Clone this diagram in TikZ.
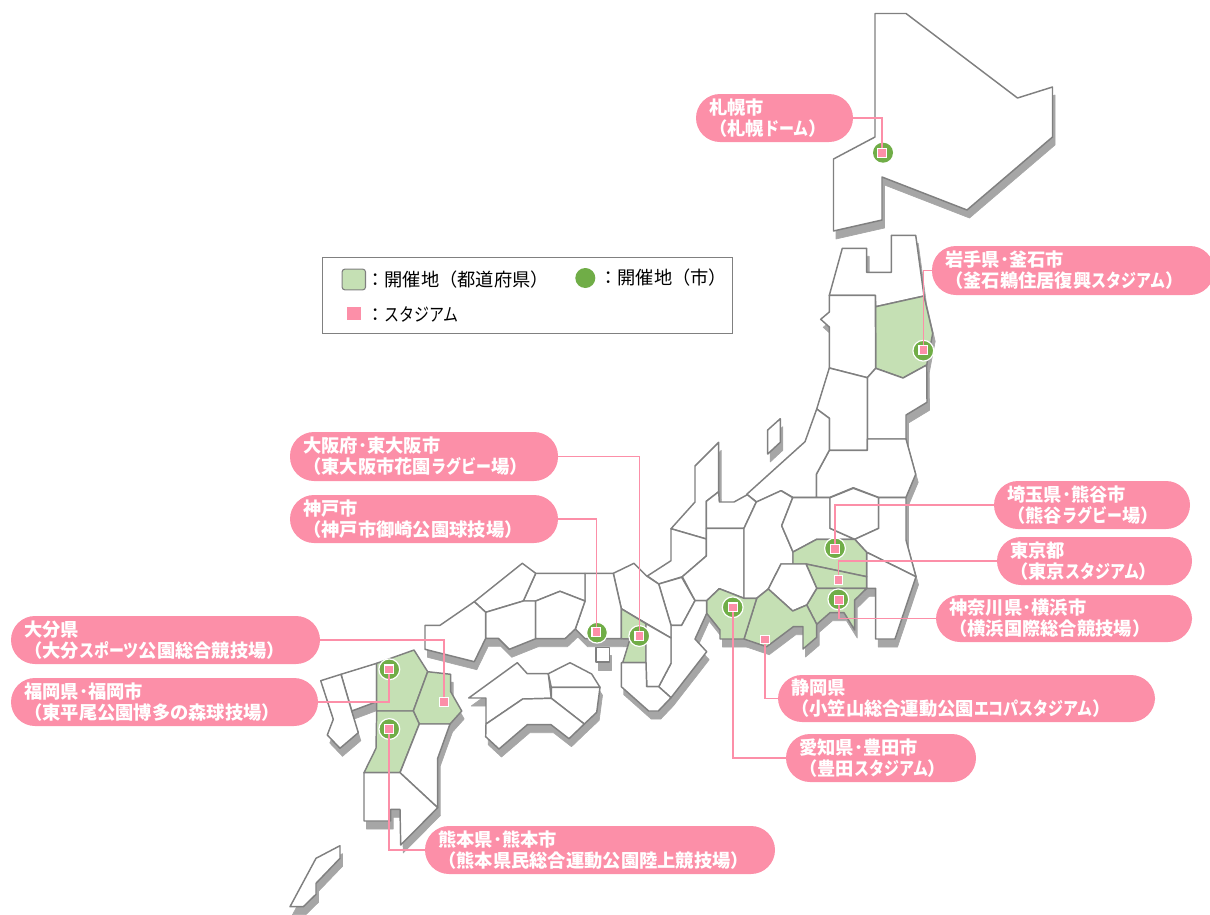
\documentclass[tikz,border=0pt]{standalone}
\usepackage{fontspec}
\setmainfont{Noto Sans CJK JP}
\newfontfamily\kanafont[FakeStretch=0.82]{Noto Sans CJK JP}
\newcommand{\KN}[1]{{\kanafont #1}}
\usetikzlibrary{calc}
\definecolor{pinkc}{HTML}{FC8FA8}
\definecolor{greenf}{HTML}{C5E0B4}
\definecolor{greenc}{HTML}{70AD47}
\definecolor{mapline}{HTML}{808080}
\definecolor{mapshadow}{HTML}{A6A6A6}
\pgfdeclarelayer{bg}\pgfdeclarelayer{mid}\pgfsetlayers{bg,mid,main}
\tikzset{
  x=0.75pt,y=-0.75pt,
  pillbox/.style={rectangle,fill=pinkc,rounded corners=18pt,inner xsep=10pt,inner ysep=0pt,align=left,text=white,font=\fontsize{13.7}{15.8}\selectfont\bfseries},
  wpref/.style={fill=white,draw=mapline,line width=1.1pt,line join=round},
  gpref/.style={fill=greenf,draw=mapline,line width=1.1pt,line join=round},
  shade/.style={fill=mapshadow,draw=mapshadow,line width=0.5pt,line join=round},
  sqmark/.style={rectangle,fill=pinkc,draw=white,line width=0.9pt,minimum size=6.6pt,inner sep=0pt},
  sqsmall/.style={sqmark,minimum size=6.2pt},
  circmark/.style={circle,fill=greenc,draw=white,line width=0.9pt,minimum size=15.6pt,inner sep=0pt},
  conn/.style={draw=pinkc,line width=1.2pt},
  legtext/.style={anchor=west,inner sep=0pt,font=\fontsize{13.7}{16}\selectfont},
}
\newcommand{\pill}[6]{%
  \pgfmathsetmacro{\tw}{(#4-#2)*0.75-20}%
  \node[pillbox,text width=\tw pt,minimum height={(#5-#3)*0.75pt}] (#1) at ({(#2+#4)/2},{(#3+#5)/2}) {#6};}
\newcommand{\allregions}{%
% Hokkaido
\reg{wpref}{(875,13.5)--(906,13.5)--(1017.5,98)--(1052.5,87)--(1052.5,137)--(967,210)--(882,177)--(882,220)--(833.5,231)--(833.5,159)--(875,137)--cycle}%
% Tohoku
\reg{wpref}{(829.3,295.3)--(842.3,248.3)--(866.7,248.3)--(866.7,272.3)--(891.3,272.3)--(891.3,235.3)--(915.7,235.3)--(924,296)--(875.7,306.7)--(875.3,295.3)--cycle}%
\reg{gpref}{(875.7,306.7)--(924,296)--(932.7,333.3)--(926.7,365)--(903,378)--(875.7,368.3)--cycle}%
\reg{wpref}{(829.3,295.3)--(875.3,295.3)--(875.7,368.3)--(867.3,377.7)--(829.3,368)--(829.3,327)--(820.7,319.3)--(829.3,312)--cycle}%
\reg{wpref}{(867.3,377.7)--(875.7,368.3)--(903,378)--(926.7,365)--(927,402.3)--(906,415)--(906,439)--(867.3,439)--cycle}%
\reg{wpref}{(829.3,368)--(867.3,377.7)--(867.3,450.3)--(829.3,450.3)--(829.3,418.3)--(816.7,409)--cycle}%
\reg{wpref}{(829.3,450.3)--(867.3,450.3)--(867.3,439)--(906,439)--(915.7,474.3)--(906,497.3)--(878.3,497.3)--(853.3,487.7)--(830,497.3)--(816.3,497.3)--(816.3,474.3)--cycle}%
\reg{wpref}{(829.3,450.3)--(816.3,474.3)--(816.3,497.3)--(792.7,497.3)--(781.3,490.7)--(756.7,502)--(746.7,494.3)--(805,441.7)--(816.7,409)--(829.3,418.3)--cycle}%
\reg{wpref}{(767.7,430)--(780.3,418.7)--(780.3,442.3)--(767.7,454)--cycle}%
% Chubu
\reg{wpref}{(718.7,442.3)--(695,466)--(695,502)--(671,528.7)--(706.3,539)--(706.3,501.3)--(718.7,491.7)--cycle}%
\reg{wpref}{(706.3,501.3)--(718.7,491.7)--(719.3,502)--(734,502)--(747.3,494.7)--(756.3,502)--(744,528.3)--(706.3,528.3)--cycle}%
\reg{wpref}{(671,528.7)--(706.3,539)--(706.3,556)--(682.3,576.7)--(658.7,584)--(647.3,576)--(671,560.7)--cycle}%
\reg{wpref}{(706.3,528.3)--(744,528.3)--(744,598.3)--(719.3,588.7)--(706.7,600.7)--(695,600.7)--(682.3,576.7)--(706.3,556)--cycle}%
\reg{wpref}{(756.3,502)--(781,490.7)--(792.7,497.7)--(781.7,525.7)--(793,552)--(793,564)--(781,564)--(768.3,589)--(756.7,598.3)--(744,598.3)--(744,528.3)--cycle}%
\reg{wpref}{(792.7,497.7)--(830,497.7)--(830,528.3)--(854.7,539.3)--(816.7,539.3)--(793,552)--(781.7,525.7)--cycle}%
\reg{wpref}{(830,497.7)--(853.3,488.3)--(878.7,497.7)--(878.7,528.3)--(854.7,539.3)--(830,528.3)--cycle}%
\reg{wpref}{(878.7,497.7)--(906,497.7)--(906,540)--(916,576.7)--(866.7,552.3)--(854.7,539.3)--(878.7,528.3)--cycle}%
\reg{wpref}{(866.7,552.3)--(916,576.7)--(895,639)--(875.7,639)--(875.7,588.3)--(866.7,588.3)--cycle}%
\reg{gpref}{(793,552)--(816.7,539.3)--(854.7,539.3)--(866.7,552.3)--(866.7,576.7)--(806,564)--(793,564)--cycle}%
\reg{gpref}{(806,564)--(866.7,576.7)--(866.7,588.3)--(816.7,588.3)--cycle}%
\reg{gpref}{(816.7,588.3)--(866.7,588.3)--(854.7,600)--(854.7,630)--(844,612.7)--(830,612.7)--(816.7,624.3)--(806.7,605)--cycle}%
\reg{wpref}{(781,564)--(806,564)--(816.7,588.3)--(806.7,605)--(792.7,611)--(768.3,589)--cycle}%
\reg{gpref}{(756.7,598.3)--(768.3,589)--(792.7,611)--(806.7,605)--(816.7,624.3)--(816.7,637.3)--(803,649)--(803,626.7)--(793.3,626.7)--(766.7,646.7)--(744,639)--cycle}%
\reg{gpref}{(719.3,588.7)--(744,598.3)--(756.7,598.3)--(744,639)--(720,639)--(720,630)--(706.7,613.3)--(706.7,600.7)--cycle}%
% Kinki
\reg{wpref}{(658.7,584)--(681.7,577.3)--(695,600.7)--(681.7,625.3)--(671,625.3)--cycle}%
\reg{wpref}{(671,625.3)--(681.7,625.3)--(695,600.7)--(706.7,600.7)--(706.7,613.3)--(695,639)--(706.7,651.7)--(671,697.7)--(658.7,686.7)--(671,663.3)--cycle}%
\reg{wpref}{(613.3,573.3)--(634,563.3)--(646.7,576)--(658.7,584)--(671,625.3)--(671,638)--(621.3,608.7)--cycle}%
\reg{wpref}{(585,573.3)--(613.3,573.3)--(621.3,608.7)--(621.3,638.7)--(585,638.7)--(575.3,629)--(585,601)--cycle}%
\reg{wpref}{(596,647.7)--(609.3,647.7)--(609.3,662)--(596,662)--cycle}%
\reg{gpref}{(621.3,608.7)--(646,623.7)--(646,662.7)--(622.7,662.7)--(630,639)--(621.3,638.7)--cycle}%
\reg{wpref}{(646,623.7)--(671,638)--(671,663.3)--(658.7,686.7)--(646.7,686.7)--(646,662.7)--cycle}%
\reg{wpref}{(621.3,662.7)--(646,662.7)--(646.7,686.7)--(658.7,686.7)--(671,697.7)--(658.3,711)--(648.7,711)--(621.3,686.7)--cycle}%
% Chugoku
\reg{wpref}{(535.7,573.3)--(585,573.3)--(585,601)--(560,591.3)--(535.7,601)--(523.3,601)--cycle}%
\reg{wpref}{(522.3,563.3)--(535.7,573.3)--(523.3,601)--(485.7,612.3)--(474.3,601.7)--cycle}%
\reg{wpref}{(485.7,612.3)--(523.3,601)--(535.7,601)--(535.7,638.7)--(509.3,649.3)--(498.3,638.3)--(485.7,638.3)--cycle}%
\reg{wpref}{(535.7,601)--(560,591.3)--(585,601)--(575.3,629)--(565,638.7)--(535.7,638.7)--cycle}%
\reg{wpref}{(474.3,601.7)--(485.7,612.3)--(485.7,638.3)--(474.3,661.7)--(425,649.3)--(425,625.3)--(440,625.3)--cycle}%
% Shikoku
\reg{wpref}{(468.7,698)--(517.3,662.7)--(527.3,673.7)--(548.3,673.7)--(551.3,698.3)--(522.7,699)--(486,724)--(486,698)--cycle}%
\reg{wpref}{(548.3,673.7)--(570,662.7)--(591.7,674)--(600,687.3)--(551.3,687.3)--cycle}%
\reg{wpref}{(551.3,687.3)--(600,687.3)--(596.7,712.3)--(584.3,724)--(551.3,698.3)--cycle}%
\reg{wpref}{(486,724)--(522.7,699)--(551.3,698.3)--(584.3,724)--(569,738.7)--(551,724.7)--(527.3,724.7)--(499,749)--(485.7,736.7)--cycle}%
% Kyushu
\reg{wpref}{(341,674.3)--(376.7,663.3)--(376.7,701.7)--(351.7,711)--cycle}%
\reg{wpref}{(320.7,680.7)--(341,674.3)--(351.7,711)--(358.3,732.7)--(340,748.3)--(327.3,735)--(333.3,719.3)--cycle}%
\reg{gpref}{(376.7,663.3)--(414,650)--(427.7,671.7)--(413.3,711)--(376.7,711)--cycle}%
\reg{gpref}{(427.7,671.7)--(450.7,674.3)--(450.7,691.7)--(461.7,711)--(450,724)--(419.3,724)--(413.3,711)--cycle}%
\reg{gpref}{(376.7,711)--(413.3,711)--(419.3,724)--(400,772.7)--(364,772.7)--(376,748.3)--cycle}%
\reg{wpref}{(419.3,724)--(450,724)--(437.7,758.3)--(437.7,807.7)--(400,772.7)--cycle}%
\reg{wpref}{(364,772.7)--(400,772.7)--(437.7,807.7)--(400.7,845)--(400,809.3)--(390.7,809.3)--(390.7,821)--(364,821)--cycle}%
\reg{wpref}{(316,858.3)--(340,845.7)--(340,858.3)--(316,883.3)--(316,894.3)--(303.3,906.7)--(290,906.7)--cycle}%
}
\begin{document}
\begin{tikzpicture}
\useasboundingbox (0,0) rectangle (1210,914);
\begin{pgfonlayer}{bg}
  \def\reg#1#2{\filldraw[shade,shift={(2.5,8)}] #2;}
  \allregions
  \def\reg#1#2{\filldraw[#1] #2;}
  \allregions
  \node[circmark,draw=none,minimum size=15pt] (c1) at (883,152.7) {};
  \node[circmark] (c2) at (923.3,350.7) {};
  \node[circmark] (c3) at (835,548.3) {};
  \node[circmark] (c5) at (838.3,599.3) {};
  \node[circmark] (c7) at (732.7,607.3) {};
  \node[circmark] (c8) at (639.3,636) {};
  \node[circmark] (c9) at (597,632.7) {};
  \node[circmark] (c11) at (389.3,669.3) {};
  \node[circmark] (c12) at (389.3,729) {};
\end{pgfonlayer}
% legend
\node[rectangle,draw=mapline,line width=0.9pt,fill=white,minimum width=307.5pt,minimum height=57pt,inner sep=0pt] (legend) at (527.4,295.5) {};
\node[rectangle,rounded corners=2pt,fill=greenf,draw=mapline,line width=0.8pt,minimum width=17.5pt,minimum height=15.5pt,inner sep=0pt] (lg1) at (353.8,279.5) {};
\node[circle,fill=greenc,minimum size=15pt,inner sep=0pt] (lg2) at (585.3,278) {};
\node[rectangle,fill=pinkc,minimum width=10.5pt,minimum height=9.5pt,inner sep=0pt] (lg3) at (353.7,313.7) {};
\node[legtext] (lt1) at (366,279.5) {：開催地（都道府県）};
\node[legtext] (lt2) at (599,278) {：開催地（市）};
\node[legtext] (lt3) at (366,314) {：\KN{スタジアム}};
% stadium marks
\node[sqmark] (s1) at (881.7,152.7) {};
\node[sqmark] (s2) at (923.3,350) {};
\node[sqmark] (s3) at (835,548.7) {};
\node[sqsmall] (s4) at (838.3,580) {};
\node[sqsmall] (s5) at (839,600) {};
\node[sqsmall] (s6) at (765,639.3) {};
\node[sqmark] (s7) at (732.7,607.3) {};
\node[sqmark] (s8) at (639.3,636) {};
\node[sqmark] (s9) at (596.3,632) {};
\node[sqmark] (s10) at (444,702) {};
\node[sqmark] (s11) at (389,669.3) {};
\node[sqmark] (s12) at (389,728.7) {};
% pills
\pill{p1}{696}{94}{853}{142}{札幌市\\（札幌\KN{ドーム}）}
\pill{p2}{932}{246}{1214}{295}{岩手県･釜石市\\（釜石鵜住居復興\KN{スタジアム}）}
\pill{p3}{994}{481}{1190}{529}{埼玉県･熊谷市\\（熊谷\KN{ラグビー}場）}
\pill{p4}{997}{537}{1192}{585}{東京都\\（東京\KN{スタジアム}）}
\pill{p5}{936}{595}{1192}{642}{神奈川県･横浜市\\（横浜国際総合競技場）}
\pill{p6}{778}{675}{1155}{722}{静岡県\\（小笠山総合運動公園\KN{エコパスタジアム}）}
\pill{p7}{786}{734}{976}{782}{愛知県･豊田市\\（豊田\KN{スタジアム}）}
\pill{p8}{290}{432}{558}{481}{大阪府･東大阪市\\（東大阪市花園\KN{ラグビー}場）}
\pill{p9}{290}{495}{558}{543}{神戸市\\（神戸市御崎公園球技場）}
\pill{p10}{11}{616}{320}{664}{大分県\\（大分\KN{スポーツ}公園総合競技場）}
\pill{p11}{11}{678}{318}{726}{福岡県･福岡市\\（東平尾公園博多の森球技場）}
\pill{p12}{425}{826}{775}{874}{熊本県･熊本市\\（熊本県民総合運動公園陸上競技場）}
% connectors
\begin{pgfonlayer}{mid}
  \draw[conn] (p1.east) -| (s1.center);
  \draw[conn] (p2.west) -| (s2.center);
  \draw[conn] (p3.west) -| (s3.center);
  \draw[conn] (p4.west) -| (s4.center);
  \draw[conn] (p5.west) -| (s5.center);
  \draw[conn] (p6.west) -| (s6.center);
  \draw[conn] (p7.west) -| (s7.center);
  \draw[conn] (p8.east) -| (s8.center);
  \draw[conn] (p9.east) -| (s9.center);
  \draw[conn] (p10.east) -| (s10.center);
  \draw[conn] (p11.east) -| (s11.center);
  \draw[conn] (p12.west) -| (s12.center);
\end{pgfonlayer}
\end{tikzpicture}
\end{document}
